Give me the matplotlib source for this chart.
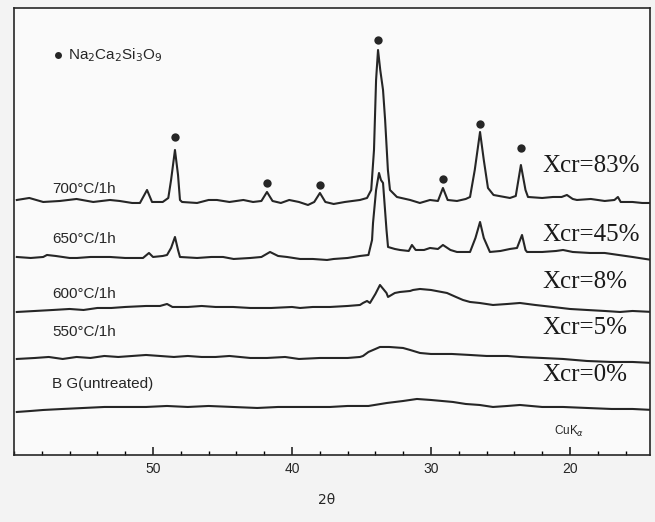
import numpy as np
import matplotlib.pyplot as plt
from matplotlib.ticker import FixedLocator, MultipleLocator

# 2-theta (deg) and intensity (arb. units)
tt_700 = [59.8, 58.9, 57.9, 56.7, 55.5, 54.3, 53.1, 52.4, 51.5, 50.94, 50.43, 50.07, 49.3, 48.9, 48.7,
          48.42, 48.2, 48.06, 47.91, 46.83, 46.0, 45.4, 44.5, 43.5, 42.8, 42.2, 41.8, 41.4, 40.8, 40.2,
          39.5, 38.85, 38.4, 37.99, 37.6, 37.0, 36.2, 35.11, 34.6, 34.3, 34.1, 33.95, 33.81, 33.65, 33.45,
          33.3, 33.1, 32.95, 32.45, 31.5, 30.8, 30.07, 29.5, 29.14, 28.8, 28.13, 27.5, 27.19, 26.85, 26.47,
          26.2, 25.9, 25.5, 24.32, 23.9, 23.53, 23.2, 23.02, 22.0, 21.22, 20.6, 20.22, 19.8, 19.5, 18.5,
          17.5, 16.8, 16.55, 16.35, 15.5, 14.8, 14.1]
I_700 = [255, 257, 253, 254, 256, 253, 255, 254, 252, 252, 265, 253, 253, 257, 275,
         305, 280, 255, 253, 252, 255, 255, 253, 255, 253, 254, 263, 254, 252, 255,
         253, 250, 253, 262, 253, 251, 253, 255, 257, 265, 305, 375, 405, 385, 365,
         335, 285, 265, 258, 255, 252, 255, 254, 267, 255, 254, 256, 258, 285, 323,
         295, 267, 260, 257, 259, 290, 265, 258, 257, 258, 258, 260, 256, 255, 256,
         254, 255, 258, 253, 253, 252, 252]

tt_650 = [59.8, 58.8, 57.9, 57.63, 57.0, 56.0, 55.47, 54.5, 53.09, 52.0, 51.0, 50.72, 50.29, 50.0, 49.3,
          48.99, 48.7, 48.42, 48.2, 48.06, 46.83, 45.8, 44.96, 44.2, 43.0, 42.2, 41.58, 41.0, 40.36, 39.42,
          38.5, 37.48, 37.0, 36.0, 35.11, 34.5, 34.24, 34.17, 33.95, 33.74, 33.6, 33.45, 33.2, 33.09, 32.6,
          32.23, 31.6, 31.37, 31.1, 30.5, 30.07, 29.5, 29.14, 28.6, 28.13, 27.5, 27.19, 26.8, 26.47, 26.2,
          25.76, 25.0, 24.32, 23.81, 23.45, 23.2, 23.09, 22.0, 21.0, 20.5, 19.8, 18.56, 17.5, 16.5, 15.5, 14.1]
I_650 = [198, 197, 198, 200, 199, 197, 197, 198, 198, 197, 197, 197, 202, 198, 199,
         200, 207, 218, 205, 198, 197, 198, 198, 196, 197, 198, 203, 199, 198, 196,
         196, 195, 196, 197, 199, 200, 215, 232, 265, 282, 275, 272, 225, 208, 206,
         205, 204, 210, 205, 205, 207, 206, 210, 205, 203, 203, 203, 217, 233, 217,
         203, 204, 206, 207, 220, 205, 203, 203, 204, 205, 203, 202, 202, 200, 198, 195]

tt_600 = [59.8, 58.5, 57.2, 56.0, 55.0, 54.0, 53.0, 52.0, 50.5, 49.5, 48.99, 48.6, 47.5, 46.5, 45.5,
          44.24, 43.0, 41.5, 40.0, 39.42, 38.5, 37.27, 36.0, 35.11, 34.89, 34.6, 34.39, 34.0, 33.67, 33.2,
          33.09, 32.6, 32.23, 31.5, 31.29, 30.79, 30.0, 28.85, 28.2, 27.7, 27.19, 26.5, 25.54, 24.5, 23.6,
          22.5, 21.22, 20.0, 18.78, 17.5, 16.4, 15.5, 14.03]
I_600 = [143, 144, 145, 146, 145, 147, 147, 148, 149, 149, 151, 148, 148, 149, 148,
         148, 147, 147, 148, 147, 148, 148, 149, 150, 152, 154, 152, 161, 170, 162,
         158, 162, 163, 164, 165, 166, 165, 162, 158, 155, 153, 152, 150, 151, 152,
         150, 148, 146, 145, 144, 143, 144, 143]

tt_550 = [59.8, 58.5, 57.5, 56.5, 55.5, 54.5, 53.5, 52.5, 51.5, 50.5, 49.5, 48.5, 47.5, 46.5, 45.5,
          44.5, 43.0, 41.8, 40.5, 39.5, 38.0, 37.27, 36.0, 35.11, 34.89, 34.5, 34.0, 33.67, 33.0, 32.01,
          31.5, 30.79, 30.0, 28.5, 27.19, 26.0, 24.5, 23.6, 22.0, 20.5, 18.78, 17.0, 15.5, 14.03]
I_550 = [96, 97, 98, 96, 98, 97, 99, 98, 99, 100, 99, 98, 99, 98, 98,
         99, 97, 97, 98, 96, 97, 97, 97, 98, 99, 103, 106, 108, 108, 107,
         105, 102, 101, 101, 100, 99, 99, 98, 97, 96, 94, 93, 93, 92]

tt_bg = [59.8, 58.8, 57.9, 56.5, 55.0, 53.5, 52.0, 50.5, 49.0, 47.5, 46.0, 44.24, 42.5, 41.0, 39.5,
         38.0, 37.27, 36.0, 34.5, 33.17, 32.0, 31.01, 30.0, 28.42, 27.5, 26.5, 25.54, 24.5, 23.6, 22.0,
         20.5, 18.78, 17.0, 15.5, 14.03]
I_bg = [43, 44, 45, 46, 47, 48, 48, 48, 49, 48, 49, 48, 47, 48, 48,
        48, 48, 49, 49, 52, 54, 56, 55, 53, 51, 50, 48, 49, 50, 48,
        48, 47, 46, 46, 45]

# Na2Ca2Si3O9 reflections marked with a dot
dot_tt = [48.4, 41.8, 38.0, 33.8, 29.1, 26.5, 23.5]
dot_I = [318, 272, 270, 415, 276, 331, 307]

temp_labels = ['700°C/1h', '650°C/1h', '600°C/1h', '550°C/1h', 'B G(untreated)']
temp_label_I = [262, 212, 157, 119, 67]
xcr_labels = ['Xcr=83%', 'Xcr=45%', 'Xcr=8%', 'Xcr=5%', 'Xcr=0%']
xcr_label_I = [283, 214, 167, 121, 74]
tick_pos = [50, 40, 30, 20]

line_col = '#262626'

fig = plt.figure(figsize=(6.55, 5.22), dpi=100, facecolor='#f3f3f3')
ax = fig.add_axes([0.0214, 0.1284, 0.971, 0.8563], facecolor='#fafafa')

for tt, I in [(tt_700, I_700), (tt_650, I_650), (tt_600, I_600), (tt_550, I_550), (tt_bg, I_bg)]:
    ax.plot(tt, I, color=line_col, lw=1.5, solid_joinstyle='round')

ax.plot(dot_tt, dot_I, 'o', color=line_col, ms=6, mec='none')

# phase key
ax.plot([56.83], [400], 'o', color=line_col, ms=5, mec='none')
ax.text(56.15, 400, r'Na$_2$Ca$_2$Si$_3$O$_9$', fontsize=11, family='Liberation Sans',
        va='center', ha='left', color=line_col)

for lab, yv in zip(temp_labels, temp_label_I):
    ax.text(57.25, yv, lab, fontsize=11, family='Liberation Sans', va='baseline', ha='left',
            color=line_col)

for lab, yv in zip(xcr_labels, xcr_label_I):
    ax.text(22.0, yv, lab, fontsize=18, family='Liberation Serif', va='baseline', ha='left',
            color='#1a1a1a')

ax.text(21.15, 20, r'CuK$_\alpha$', fontsize=8.5, family='Liberation Sans', va='baseline',
        ha='left', color=line_col)

ax.set_xlim(60.0, 14.24)
ax.set_ylim(0, 447)
ax.xaxis.set_major_locator(FixedLocator(tick_pos))
ax.xaxis.set_minor_locator(MultipleLocator(2))
ax.set_yticks([])
ax.tick_params(axis='x', which='major', direction='in', length=6, width=1.2, pad=5,
               labelsize=10, colors=line_col)
ax.tick_params(axis='x', which='minor', direction='in', length=3, width=1.0)
for lbl in ax.get_xticklabels():
    lbl.set_family('Liberation Sans')
for sp in ax.spines.values():
    sp.set_linewidth(1.2)
    sp.set_color(line_col)

fig.text(0.499, 0.042, '2θ', fontsize=10, family='DejaVu Sans', ha='center', va='center',
         color=line_col)

fig.savefig('out.png', dpi=100, facecolor=fig.get_facecolor())
